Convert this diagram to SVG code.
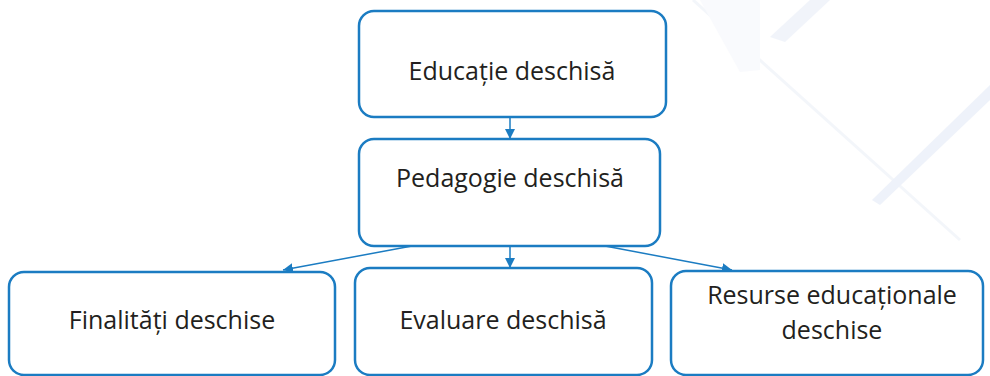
<svg xmlns="http://www.w3.org/2000/svg" width="990" height="376" viewBox="0 0 990 376">
<defs>
<style>
.box{fill:#fff;stroke:#1b7cc2;stroke-width:2.5}
.lbl{font-family:"Open Sans","Noto Sans","Liberation Sans",sans-serif;font-size:25px;fill:#231f20;text-anchor:middle}
.con{stroke:#1b7cc2;stroke-width:1.5;fill:none}
</style>
<marker id="ah" viewBox="0 0 10 10" refX="10" refY="5" markerWidth="10" markerHeight="10" markerUnits="userSpaceOnUse" orient="auto">
<path d="M0,0 L10,5 L0,10 z" fill="#1b7cc2"/>
</marker>
</defs>
<g id="background" opacity="0.4">
<path d="M770,37 L810,0 L830,0 L785,42 z" fill="#dde5f5"/>
<line x1="693" y1="0" x2="960" y2="240" stroke="#e3e9f5" stroke-width="3"/>
<path d="M990,85 L990,100 L880,205 L872,200 z" fill="#d6e0f3"/>
<path d="M700,0 L760,0 L760,70 L740,72 z" fill="#f1f4fb"/>
</g>
<g id="connectors">
<line class="con" x1="510" y1="117" x2="510" y2="139" marker-end="url(#ah)"/>
<line class="con" x1="412" y1="246" x2="283" y2="270" marker-end="url(#ah)"/>
<line class="con" x1="510" y1="246" x2="510" y2="268" marker-end="url(#ah)"/>
<line class="con" x1="605" y1="246" x2="732" y2="270" marker-end="url(#ah)"/>
</g>
<g id="n1">
<rect class="box" x="359" y="11" width="307" height="106" rx="15"/>
<text class="lbl" x="512" y="80">Educație deschisă</text>
</g>
<g id="n2">
<rect class="box" x="359" y="139" width="301" height="107" rx="15"/>
<text class="lbl" x="510" y="187">Pedagogie deschisă</text>
</g>
<g id="n3">
<rect class="box" x="9" y="272" width="326" height="103" rx="15"/>
<text class="lbl" x="172" y="329">Finalități deschise</text>
</g>
<g id="n4">
<rect class="box" x="355" y="268" width="297" height="107" rx="15"/>
<text class="lbl" x="503" y="329">Evaluare deschisă</text>
</g>
<g id="n5">
<rect class="box" x="671" y="271" width="312" height="104" rx="15"/>
<text class="lbl" x="832" y="304">Resurse educaționale</text>
<text class="lbl" x="832" y="339">deschise</text>
</g>
</svg>
